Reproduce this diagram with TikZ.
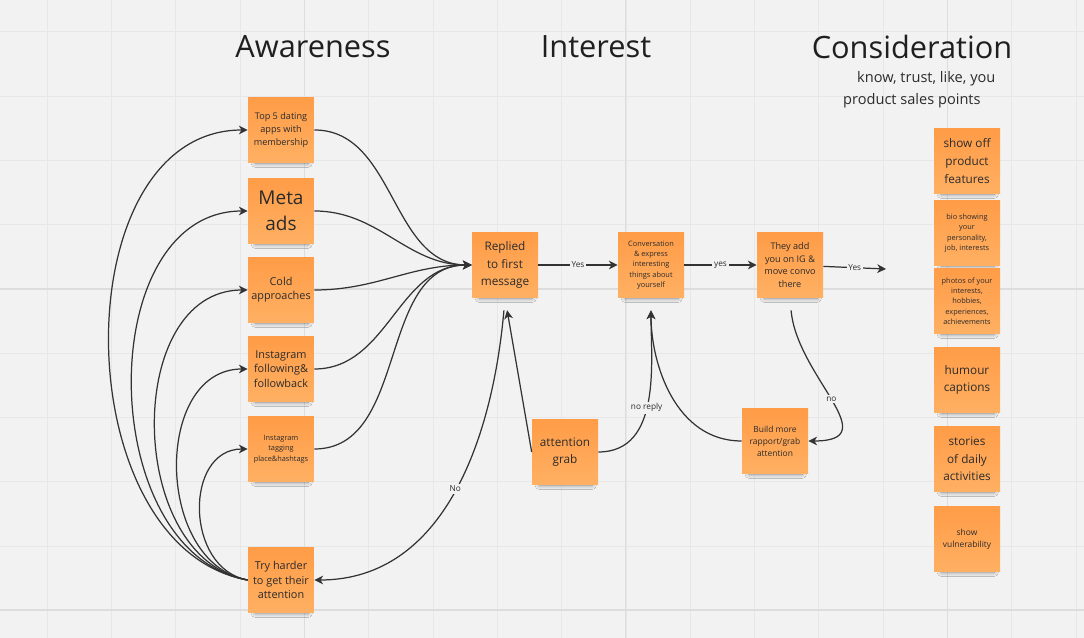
\documentclass[tikz,border=0pt]{standalone}
\usepackage{fontspec}
\setmainfont{Open Sans}
\usetikzlibrary{arrows.meta,shadows.blur}

\definecolor{fondo}{HTML}{F2F2F2}
\definecolor{rejilla}{HTML}{E7E7E7}
\definecolor{rejillaB}{HTML}{DDDDDD}
\definecolor{notaA}{HTML}{FF9C47}
\definecolor{notaB}{HTML}{FFB063}
\definecolor{tinta}{HTML}{2B2B2B}
\definecolor{linea}{HTML}{333333}

\tikzset{
  nota/.style={rectangle, minimum width=1.32cm, minimum height=1.31cm, inner sep=1pt,
    top color=notaA, bottom color=notaB, align=center, text=tinta,
    blur shadow={shadow xshift=0.5pt, shadow yshift=-5pt, shadow scale=0.8,
      shadow blur radius=3pt, shadow blur steps=8, shadow opacity=45}},
  txs/.style={font=\fontsize{4.2}{5.9}\selectfont},
  ts/.style={font=\fontsize{4.8}{6.9}\selectfont},
  tm/.style={font=\fontsize{5.2}{7.3}\selectfont},
  tl/.style={font=\fontsize{6.2}{8.1}\selectfont},
  txl/.style={font=\fontsize{6.7}{10}\selectfont},
  tbig/.style={font=\fontsize{10.8}{14.7}\selectfont},
  titulo/.style={font=\fontsize{17.5}{20}\selectfont, text=black!88},
  subt/.style={font=\fontsize{8.3}{10}\selectfont, text=tinta, anchor=west},
  flow/.style={draw=linea, line width=0.7pt, -{Stealth[length=5pt,width=5pt,inset=1.5pt]}},
  lbl/.style={fill=fondo, inner sep=1pt, text=tinta, font=\fontsize{4.7}{5}\selectfont}
}

\begin{document}
\begin{tikzpicture}[x=0.02cm, y=0.02cm]
    % Fondo y cuadrícula
    \useasboundingbox (0,0) rectangle (1084,638);
    \fill[fondo] (0,0) rectangle (1084,638);
    \foreach \k in {0,...,16}
        \draw[rejilla, line width=0.6pt] ({47.3+64.3*\k},0) -- ({47.3+64.3*\k},638);
    \foreach \k in {0,...,9}
        \draw[rejilla, line width=0.6pt] (0,{606.2-64.3*\k}) -- (1084,{606.2-64.3*\k});
    \foreach \x in {304.5,625.9,947.4}
        \draw[rejillaB, line width=0.6pt] (\x,0) -- (\x,638);
    \foreach \y in {349,28}
        \draw[rejillaB, line width=0.6pt] (0,\y) -- (1084,\y);

    % Títulos
    \node[titulo] (tAw) at (313,591) {Awareness};
    \node[titulo] (tIn) at (596,591) {Interest};
    \node[titulo] (tCo) at (912,591) {Consideration};
    \node[subt] (s1) at (851,559) {know, trust, like, you};
    \node[subt] (s2) at (837,537) {product sales points};

    % Awareness
    \node[nota, tm] (n1) at (281,508) {Top 5 dating\\apps with\\membership};
    \node[nota, tbig] (n2) at (281,427) {Meta\\ads};
    \node[nota, tl] (n3) at (281,348) {Cold\\approaches};
    \node[nota, tl] (n4) at (281,269) {Instagram\\following\&\\followback};
    \node[nota, txs] (n5) at (281,189) {Instagram\\tagging\\place\&hashtags};
    \node[nota, tl] (n6) at (281,58) {Try harder\\to get their\\attention};

    % Interest
    \node[nota, txl] (rep) at (505,373) {Replied\\to first\\message};
    \node[nota, txs] (conv) at (651,373) {Conversation\\\& express\\interesting\\things about\\yourself};
    \node[nota, tm] (add) at (790,373) {They add\\you on IG \&\\move convo\\there};
    \node[nota, txl] (grab) at (565,186) {attention\\grab};
    \node[nota, ts] (build) at (775,197) {Build more\\rapport/grab\\attention};
    \coordinate (fin) at (886,369);

    % Consideration
    \node[nota, txl] (r1) at (967,477) {show off\\product\\features};
    \node[nota, txs] (r2) at (967,405) {bio showing\\your\\personality,\\job, interests};
    \node[nota, txs] (r3) at (967,337) {photos of your\\interests,\\hobbies,\\experiences,\\achievements};
    \node[nota, txl] (r4) at (967,258) {humour\\captions};
    \node[nota, txl] (r5) at (967,179) {stories\\of daily\\activities};
    \node[nota, ts] (r6) at (967,99) {show\\vulnerability};

    % Conexiones
    \foreach \n in {n1,n2,n3,n4,n5}
        \draw[flow] (\n.east) to[out=0,in=180] (rep.west);
    \foreach \n/\l in {n1/1.06,n2/1.08,n3/1.1,n4/1.15,n5/1.25}
        \draw[flow] (n6.west) to[out=170,in=180,looseness=\l] (\n.west);

    \draw[flow] (rep) -- node[lbl] {Yes} (conv);
    \draw[flow] (conv) -- node[lbl] {yes} (add);
    \draw[flow] (add) -- node[lbl] {Yes} (fin);
    \draw[flow, shorten <=7pt] (add.south) to[out=-85,in=0,looseness=1.4] node[lbl] {no} (build.east);
    \draw[flow, shorten >=7pt] (build.west) to[out=180,in=-90] (conv.south);
    \draw[flow, shorten >=7pt] (grab.east) to[out=0,in=-90] node[lbl, pos=0.45] {no reply} (conv.south);
    \draw[flow, shorten >=7pt] (grab.west) -- (rep.south);
    \draw[flow, shorten <=7pt] (rep.south) to[out=-95,in=0] node[lbl] {No} (n6.east);
\end{tikzpicture}
\end{document}
